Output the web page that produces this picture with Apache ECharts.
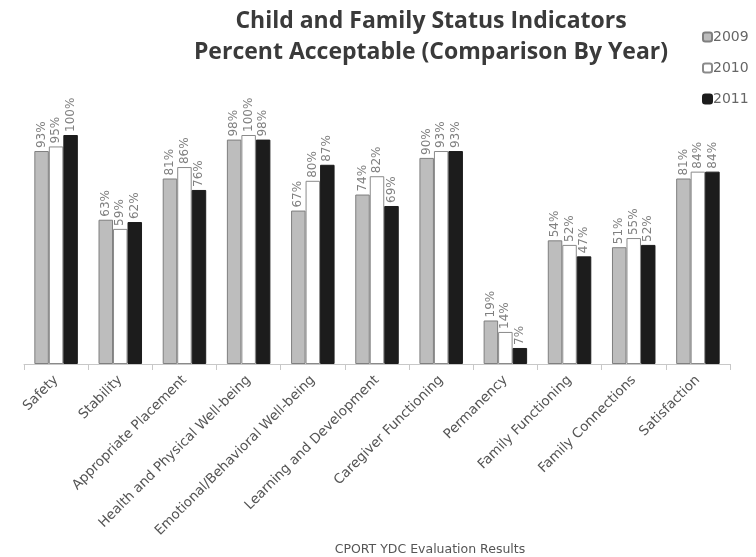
<!DOCTYPE html>
<html><head><meta charset="utf-8">
<script src="https://cdn.jsdelivr.net/npm/echarts@6/dist/echarts.min.js"></script>
<style>html,body{margin:0;padding:0;background:#fff}#c{width:756px;height:557px}</style>
</head><body><div id="c"></div>
<script>
const categories = ["Safety","Stability","Appropriate Placement","Health and Physical Well-being","Emotional/Behavioral Well-being","Learning and Development","Caregiver Functioning","Permanency","Family Functioning","Family Connections","Satisfaction"];
const years = ["2009","2010","2011"];
const v2009 = [93,63,81,98,67,74,90,19,54,51,81];
const v2010 = [95,59,86,100,80,82,93,14,52,55,84];
const v2011 = [100,62,76,98,87,69,93,7,47,52,84];

const wide = "'DejaVu Sans', sans-serif";
const titleFont = "'Open Sans', sans-serif";
const fills = ["#bdbdbd","#ffffff","#1c1c1c"];
const borders = ["#7f7f7f","#8a8a8a","#1c1c1c"];
const data = [v2009, v2010, v2011];

const chart = echarts.init(document.getElementById('c'), null, {renderer:'canvas'});
chart.setOption({
  animation:false,
  backgroundColor:'#fff',
  title:{
    text:'Child and Family Status Indicators\nPercent Acceptable (Comparison By Year)',
    left:426, top:1, textAlign:'center',
    textStyle:{fontFamily:titleFont, fontWeight:'bold', fontSize:23, color:'#3a3a3a', lineHeight:31}
  },
  legend:{
    orient:'vertical', left:697, top:25, itemWidth:9, itemHeight:9, itemGap:17,
    textStyle:{fontFamily:wide, fontSize:14, color:'#666', padding:[0,0,0,-4]},
    data: years
  },
  grid:{left:24, right:26, top:135, bottom:193},
  xAxis:{
    type:'category', data:categories,
    name:'CPORT YDC Evaluation Results', nameLocation:'middle', nameGap:179,
    nameTextStyle:{fontFamily:wide, fontSize:12.5, color:'#555', padding:[0,0,0,106]},
    axisLine:{lineStyle:{color:'#c8c8c8'}},
    axisTick:{show:true, length:6, lineStyle:{color:'#c8c8c8'}},
    axisLabel:{rotate:45, fontFamily:wide, fontSize:13.5, color:'#555', margin:14, interval:0}
  },
  yAxis:{type:'value', min:0, max:100, show:false, splitLine:{show:false}},
  series: years.map((y,i)=>({
    name:y, type:'bar', data:data[i], barWidth:14.5, barGap:'0%',
    itemStyle:{color:fills[i], borderColor:borders[i], borderWidth:1},
    label:{show:true, position:'top', rotate:90, align:'left', verticalAlign:'middle', distance:3,
      formatter:'{c}%', fontFamily:wide, fontSize:12, color:'#808080'}
  }))
});
</script></body></html>
